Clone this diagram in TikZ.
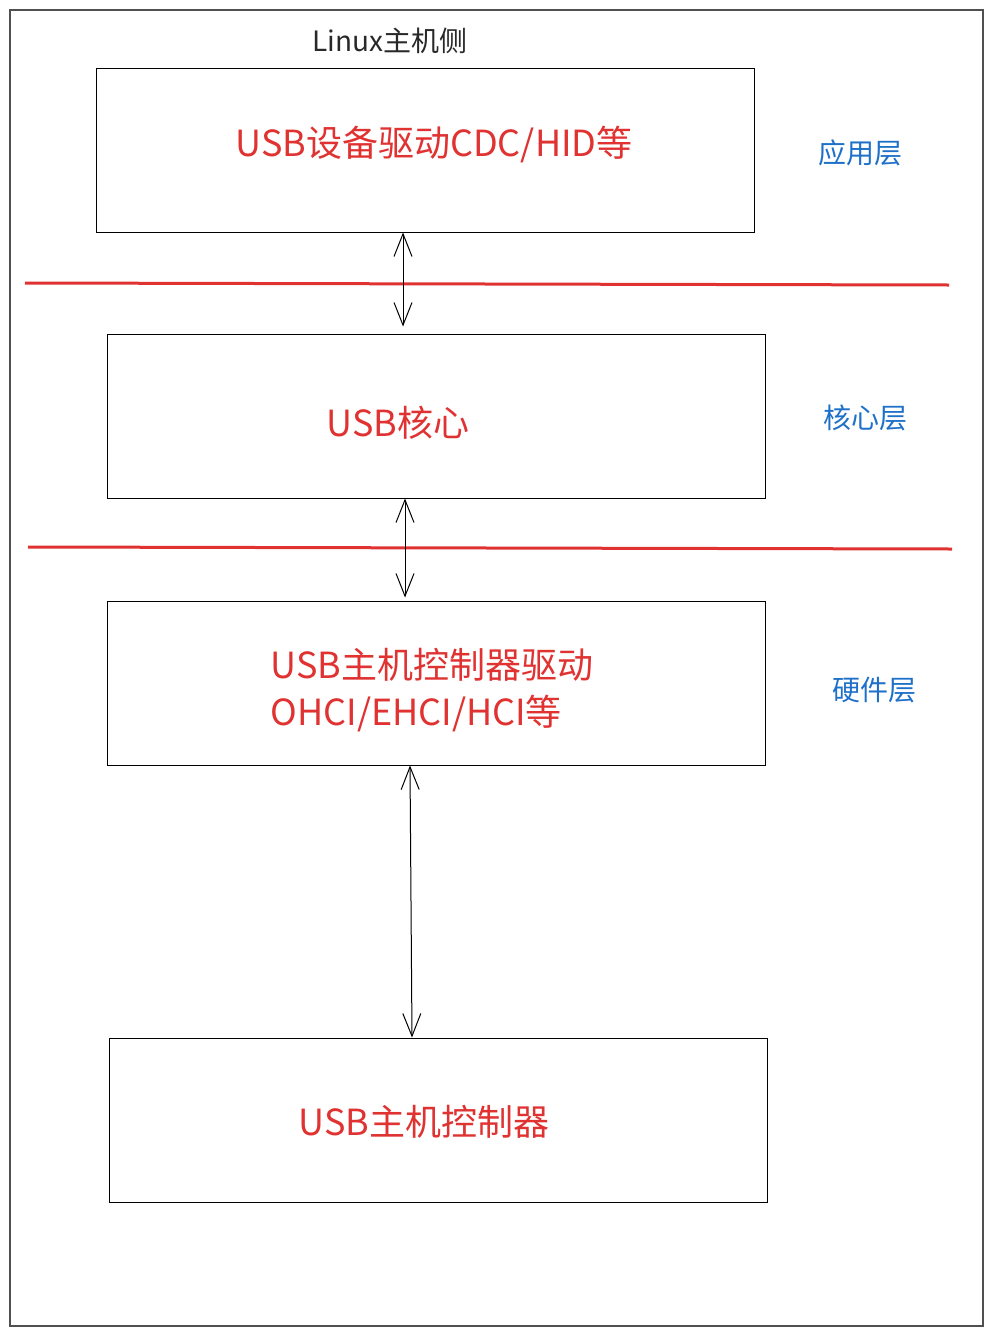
\documentclass[tikz,border=0pt]{standalone}
\usepackage{fontspec}
\newfontfamily\cjk{Noto Sans CJK SC}
\usetikzlibrary{arrows.meta,positioning}
\definecolor{LayerRed}{RGB}{225,50,50}
\definecolor{LayerBlue}{RGB}{30,112,200}
\definecolor{FrameGray}{RGB}{80,80,80}
\definecolor{TextDark}{RGB}{40,40,40}
\tikzset{
  layer/.style={draw=black,line width=.75pt,fill=white,minimum width=493.5pt,minimum height=123pt,text=LayerRed,font=\cjk\fontsize{27pt}{35pt}\selectfont,align=left,inner sep=0pt},
  tag/.style={text=LayerBlue,font=\cjk\fontsize{21pt}{25pt}\selectfont,inner sep=0pt},
  title/.style={text=TextDark,font=\cjk\fontsize{21pt}{25pt}\selectfont,inner sep=0pt},
  bi/.style={{Straight Barb[length=17pt,width=13.5pt]}-{Straight Barb[length=17pt,width=13.5pt]},line width=.75pt,draw=black},
  split/.style={draw=LayerRed,line width=2.25pt}
}
\begin{document}
\begin{tikzpicture}[x=.75pt,y=-.75pt]
  \useasboundingbox (0,0) rectangle (993,1335);
  \draw[FrameGray,line width=1.5pt] (10,10) rectangle (983,1326);
  \node[title] (side) at (390,41) {Linux主机侧};
  \node[layer] (app) at (425,150) {};
  \node[text=LayerRed,font=\cjk\fontsize{27pt}{35pt}\selectfont,inner sep=0pt] (apptxt) at (434,145) {USB设备驱动CDC/HID等};
  \node[layer] (core) at (436,416) {};
  \node[text=LayerRed,font=\cjk\fontsize{27pt}{35pt}\selectfont,inner sep=0pt] (coretxt) at (398,423) {USB核心};
  \node[layer] (host) at (436,683) {};
  \node[text=LayerRed,font=\cjk\fontsize{27pt}{35pt}\selectfont,align=left,inner sep=0pt] (hosttxt) at (432,690) {USB主机控制器驱动\\OHCI/EHCI/HCI等};
  \node[layer] (ctrl) at (438,1120) {};
  \node[text=LayerRed,font=\cjk\fontsize{27pt}{35pt}\selectfont,inner sep=0pt] (ctrltxt) at (424,1122) {USB主机控制器};
  \node[tag] (tapp) at (860,153) {应用层};
  \node[tag] (tcore) at (865,418) {核心层};
  \node[tag] (thw) at (874,690) {硬件层};
  % separators
  \draw[split] (25,283) -- (949,285);
  \draw[split] (28,547) -- (952,549);
  % links
  \draw[bi,shorten >=5.25pt] ([xshift=-16.5pt]app.south) -- ([xshift=-24.75pt]core.north);
  \draw[bi,shorten >=2.25pt] ([xshift=-23.25pt]core.south) -- ([xshift=-23.25pt]host.north);
  \draw[bi] ([xshift=-19.5pt]host.south) -- ([xshift=-19.5pt]ctrl.north);
\end{tikzpicture}
\end{document}
